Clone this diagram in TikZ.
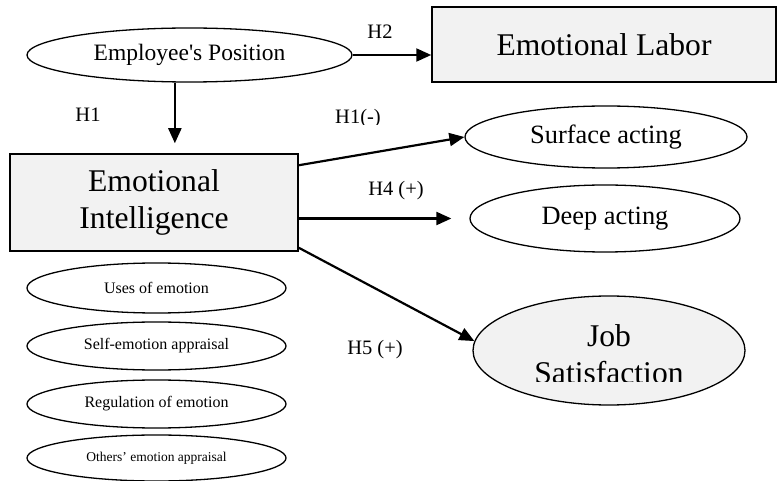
\documentclass[tikz,border=0pt]{standalone}
\usepackage{fontspec}
\setmainfont{Liberation Serif}
\usetikzlibrary{shapes.geometric,arrows.meta}
\definecolor{boxgray}{HTML}{F2F2F2}
\tikzset{
  ovalbox/.style={draw, ellipse, line width=1.3pt, inner sep=0pt},
  greybox/.style={draw, rectangle, fill=boxgray, line width=1.5pt, inner sep=0pt},
  conn/.style={-{Triangle[length=15pt,width=13pt]}, line width=2.2pt},
  hlab/.style={font=\fontsize{20.5}{24}\selectfont, inner sep=0pt},
  bigtxt/.style={font=\fontsize{31.6}{37}\selectfont},
  midtxt/.style={font=\fontsize{26.4}{30}\selectfont},
  smalltxt/.style={font=\fontsize{16}{19}\selectfont},
}
\begin{document}
\begin{tikzpicture}[x=1pt,y=-1pt]
\useasboundingbox (0,0) rectangle (780,481);
% main nodes
\node[ovalbox, minimum width=325pt, minimum height=54pt,
      font=\fontsize{23.5}{27}\selectfont] (pos) at (189.5,55) {Employee\textquotesingle s Position};
\node[greybox, minimum width=344pt, minimum height=75pt, bigtxt] (labor) at (604,44.5) {Emotional Labor};
\node[greybox, minimum width=288pt, minimum height=97pt, bigtxt, align=center] (ei) at (154,202.5) {Emotional\\Intelligence};
\node[ovalbox, minimum width=282pt, minimum height=62pt, midtxt] (surface) at (606,137) {Surface acting};
\node[ovalbox, minimum width=270pt, minimum height=67pt, midtxt] (deep) at (605,218.5) {Deep acting};
\node[ovalbox, fill=boxgray, minimum width=272pt, minimum height=109pt] (job) at (609,350.5) {};
\begin{scope}
  \clip (470,300) rectangle (750,382);
  \node[bigtxt, align=center, anchor=base] (jobtxt) at (609,384) {Job\\Satisfaction};
\end{scope}
% dimension ellipses
\node[ovalbox, minimum width=259pt, minimum height=50pt, smalltxt] (uses) at (156.5,288) {Uses of emotion};
\node[ovalbox, minimum width=259pt, minimum height=48pt, smalltxt] (self) at (156.5,346) {Self-emotion appraisal};
\node[ovalbox, minimum width=259pt, minimum height=48pt, smalltxt] (reg) at (156.5,404) {Regulation of emotion};
\node[ovalbox, minimum width=259pt, minimum height=46pt, font=\fontsize{13.5}{16}\selectfont] (oth) at (156.5,458) {Others’ emotion appraisal};
% connectors
\draw[conn] (pos.east) -- (pos.east -| labor.west);
\draw[conn, shorten >=10pt] (pos.-118) -- (pos.-118 |- ei.north);
\draw[conn] ([yshift=-12pt]ei.north east) -- (surface.west);
\draw[conn, shorten >=18pt] (ei.east |- deep.west) -- (deep.west);
\draw[conn] ([yshift=4pt]ei.south east) -- (job.176);
% labels
\node[hlab] (h2) at (380,32) {H2};
\node[hlab] (h1) at (88,115) {H1};
\begin{scope}
  \clip (320,100) rectangle (420,124.5);
  \node[hlab] (h1m) at (358,119) {H1(-)};
\end{scope}
\node[hlab] (h4) at (396,191) {H4 (+)};
\node[hlab] (h5) at (375,350) {H5 (+)};
\end{tikzpicture}
\end{document}
